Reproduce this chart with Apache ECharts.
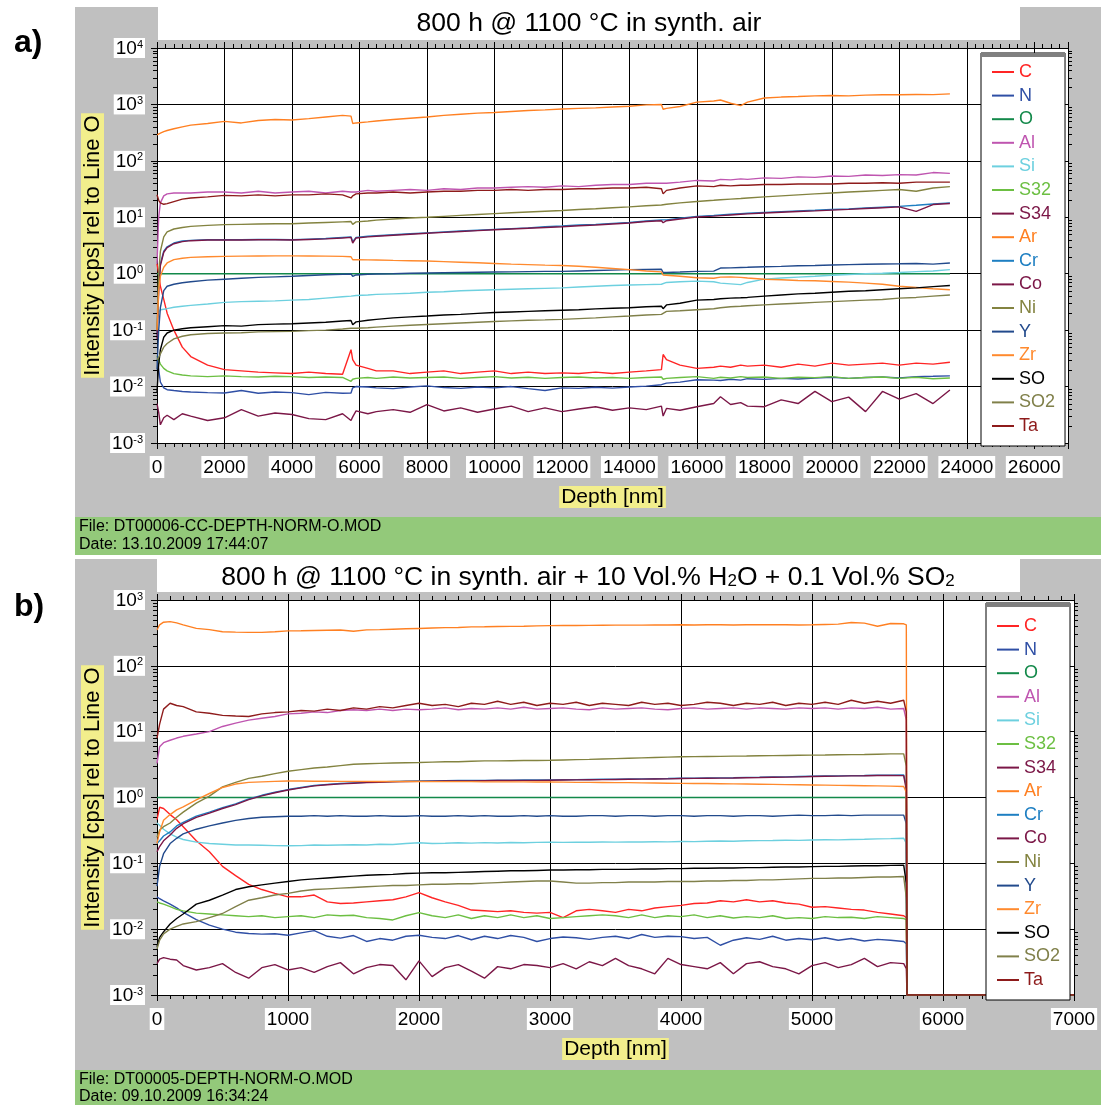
<!DOCTYPE html>
<html><head><meta charset="utf-8">
<script src="https://cdn.jsdelivr.net/npm/echarts@6/dist/echarts.min.js"></script>
<style>html,body{margin:0;padding:0;background:#fff}#c{width:1101px;height:1105px}</style>
</head><body><div id="c"></div><script>
// ---------- Panel a: depth [nm] and intensities ----------
const depthA = [0,50,100,200,300,500,750,1000,1500,2000,
 2500,3000,3500,4000,4500,5000,5500,5750,5800,5900,
 6250,6500,7000,7500,8000,8500,9000,9500,10000,10500,
 11000,11500,12000,12500,13000,13500,14000,14500,14950,15000,
 15100,15500,16000,16500,16700,17000,17300,17500,18000,18500,
 19000,19500,20000,20500,21000,21500,22000,22500,23000,23500];
const depthA_O = [0, 23500];
const O_a = [1, 1];
const Ar_a = [290,300,310,330,345,370,400,430,460,500,
 470,520,540,530,560,600,640,620,460,470,
 490,510,540,570,600,640,670,700,720,750,
 780,800,830,850,870,900,930,980,1000,820,
 850,920,1100,1150,1200,1050,950,1100,1300,1350,
 1380,1420,1440,1420,1460,1480,1480,1500,1490,1540];
const Al_a = [1.5,10,18,24,26,27,27,27,28,28,
 27,29,27,28,29,27,29,28,27,28,
 30,29,30,31,30,32,31,33,33,34,
 35,34,36,35,37,38,38,40,40,42,
 40,42,45,44,47,46,48,47,50,49,
 52,51,54,53,56,55,57,56,62,60];
const Ta_a = [25,20,18,17,17.5,19,21,22,23,24.5,
 24,25,24,25,25,26,25,22,24,26,
 27,27,28,27,28,29,29,30,30,31,
 30,31,31,32,32,33,33,34,32,26,
 30,33,36,35,37,36,37,37,38,38,
 39,39,39,40,40,41,40,42,42,42];
const Ni_a = [0.1,1,2.5,4.5,5.5,6.2,6.6,6.9,7.2,7.4,
 7.5,7.6,7.7,7.7,7.9,8.1,8.3,8.4,7.5,8.3,
 8.6,8.9,9.3,9.7,10,10.4,10.8,11.2,11.6,12,
 12.4,12.8,13.2,13.7,14.2,14.8,15.3,16,16.5,15.5,
 17,18,19,20,20.5,21,21.5,22,23,24,
 25,26,27,28,29,30,31,29,33,35];
const Cr_a = [0.08,0.6,1.5,2.5,3.0,3.5,3.8,3.9,4.0,4.0,
 4.0,4.05,4.05,4.0,4.1,4.2,4.4,4.5,3.7,4.4,
 4.6,4.7,4.9,5.1,5.3,5.5,5.7,5.9,6.1,6.3,
 6.5,6.8,7.0,7.3,7.5,7.8,8.1,8.6,9.0,8.4,
 9.0,9.6,10.4,10.8,11,11.3,11.6,11.8,12.2,12.6,
 13,13.3,13.7,14.1,14.6,15.1,15.6,16.3,17.2,18];
const Co_a = [0.07,0.5,1.4,2.4,2.9,3.4,3.7,3.85,3.95,3.95,
 3.95,4.0,4.0,3.95,4.05,4.15,4.3,4.4,3.5,4.3,
 4.5,4.6,4.8,5.0,5.2,5.4,5.6,5.8,6.0,6.2,
 6.4,6.6,6.8,7.1,7.3,7.6,7.9,8.4,8.7,8.0,
 8.7,9.3,10.1,10.5,10.7,11,11.3,11.5,11.9,12.3,
 12.7,13,13.4,13.8,14.3,14.8,15.3,12.7,16.8,17.6];
const Zr_a = [0.1,0.5,0.9,1.3,1.55,1.78,1.88,1.95,2.0,2.03,
 2.05,2.06,2.07,2.07,2.06,2.05,2.03,2.0,1.77,1.78,
 1.76,1.75,1.72,1.7,1.68,1.64,1.6,1.56,1.52,1.48,
 1.45,1.42,1.4,1.36,1.3,1.24,1.18,1.12,1.08,0.95,
 0.94,0.9,0.85,0.83,0.87,0.88,0.86,0.84,0.8,0.78,
 0.76,0.75,0.73,0.71,0.68,0.65,0.6,0.57,0.54,0.52];
const Y_a = [0.02,0.1,0.25,0.5,0.6,0.65,0.69,0.72,0.77,0.8,
 0.83,0.86,0.88,0.9,0.93,0.96,0.98,0.99,0.9,0.95,
 0.98,0.99,1.0,1.02,1.03,1.04,1.05,1.06,1.07,1.08,
 1.09,1.1,1.1,1.12,1.14,1.16,1.18,1.19,1.2,1.05,
 1.05,1.07,1.1,1.11,1.26,1.27,1.29,1.3,1.33,1.35,
 1.38,1.4,1.43,1.45,1.47,1.49,1.5,1.52,1.48,1.55];
const Si_a = [0.15,0.21,0.23,0.235,0.24,0.255,0.265,0.275,0.29,0.31,
 0.32,0.325,0.33,0.34,0.35,0.37,0.39,0.4,0.4,0.41,
 0.42,0.43,0.44,0.45,0.47,0.48,0.5,0.51,0.52,0.53,
 0.54,0.55,0.56,0.58,0.6,0.62,0.63,0.64,0.65,0.68,
 0.7,0.72,0.74,0.72,0.68,0.66,0.64,0.7,0.8,0.84,
 0.87,0.9,0.94,0.97,1.0,1.02,1.05,1.09,1.12,1.18];
const SO_a = [0.008,0.025,0.045,0.075,0.089,0.1,0.106,0.11,0.115,0.12,
 0.118,0.125,0.128,0.13,0.134,0.138,0.145,0.148,0.125,0.14,
 0.15,0.155,0.165,0.172,0.178,0.185,0.19,0.198,0.205,0.21,
 0.215,0.22,0.225,0.23,0.238,0.245,0.25,0.26,0.265,0.24,
 0.28,0.3,0.34,0.35,0.36,0.37,0.375,0.38,0.4,0.42,
 0.44,0.45,0.47,0.49,0.5,0.52,0.54,0.56,0.59,0.62];
const SO2_a = [0.03,0.033,0.038,0.05,0.058,0.07,0.078,0.083,0.087,0.089,
 0.09,0.093,0.094,0.095,0.098,0.1,0.105,0.108,0.1,0.108,
 0.11,0.113,0.118,0.122,0.126,0.13,0.134,0.138,0.142,0.146,
 0.15,0.152,0.155,0.16,0.165,0.172,0.178,0.185,0.19,0.18,
 0.215,0.22,0.23,0.24,0.25,0.26,0.265,0.27,0.28,0.29,
 0.3,0.31,0.32,0.33,0.34,0.35,0.37,0.38,0.4,0.42];
const C_a = [1.5,1.0,0.6,0.35,0.2,0.1,0.05,0.034,0.024,0.02,
 0.019,0.018,0.0175,0.017,0.018,0.017,0.0165,0.045,0.03,0.024,
 0.021,0.019,0.019,0.017,0.018,0.019,0.017,0.018,0.019,0.017,
 0.018,0.017,0.0175,0.017,0.018,0.017,0.018,0.019,0.02,0.037,
 0.03,0.024,0.021,0.022,0.023,0.022,0.024,0.023,0.024,0.022,
 0.025,0.023,0.026,0.024,0.025,0.026,0.024,0.026,0.025,0.027];
const S32_a = [0.035,0.03,0.025,0.021,0.019,0.017,0.016,0.0155,0.015,0.0155,
 0.015,0.0148,0.0152,0.015,0.0145,0.0148,0.0145,0.0124,0.0135,0.014,
 0.0145,0.014,0.0148,0.0142,0.0145,0.0148,0.014,0.0145,0.015,0.0142,
 0.0146,0.014,0.0145,0.0148,0.0142,0.0145,0.014,0.0145,0.0148,0.0135,
 0.014,0.0145,0.015,0.014,0.0146,0.0142,0.015,0.0145,0.0148,0.014,
 0.0146,0.0144,0.015,0.014,0.0145,0.0148,0.014,0.0146,0.0138,0.0142];
const N_a = [0.03,0.02,0.012,0.0095,0.0088,0.0085,0.0082,0.008,0.0078,0.0077,
 0.0085,0.0076,0.008,0.0078,0.0072,0.0079,0.0076,0.0077,0.0095,0.01,
 0.0098,0.0095,0.0092,0.0098,0.0103,0.0096,0.0093,0.0098,0.0095,0.01,
 0.0092,0.0085,0.0095,0.0093,0.0097,0.0094,0.0098,0.0102,0.0108,0.0112,
 0.0115,0.012,0.0132,0.013,0.0128,0.0135,0.013,0.0138,0.0134,0.014,
 0.0136,0.0142,0.0146,0.014,0.0145,0.0148,0.0142,0.015,0.0152,0.0155];
const S34_a = [0.005,0.0035,0.0021,0.0028,0.0031,0.0026,0.0033,0.003,0.0025,0.0028,
 0.0039,0.003,0.0034,0.0032,0.0027,0.0026,0.0033,0.0025,0.0029,0.0037,
 0.0033,0.0036,0.0039,0.0035,0.0048,0.0037,0.0042,0.0035,0.004,0.0045,
 0.0036,0.0042,0.0036,0.004,0.0044,0.0038,0.0042,0.0039,0.0045,0.003,
 0.0041,0.0038,0.0044,0.005,0.0066,0.0048,0.0052,0.0045,0.0044,0.0058,
 0.005,0.0082,0.0054,0.0065,0.0036,0.0082,0.006,0.0075,0.005,0.0087];

// ---------- Panel b ----------
const depthB = [0,20,50,100,150,200,300,400,500,600,
 700,800,900,1000,1100,1200,1300,1400,1500,1600,
 1700,1800,1900,2000,2100,2200,2300,2400,2500,2600,
 2700,2800,2900,3000,3100,3200,3300,3400,3500,3600,
 3700,3800,3900,4000,4100,4200,4300,4400,4500,4600,
 4700,4800,4900,5000,5100,5200,5300,5400,5500,5600,
 5700,5720,5725,7000];
const depthB_O = [0, 5720, 5725, 7000];
const O_b = [1, 1, 0.001, 0.001];
const Ar_b = [350,420,460,470,450,420,370,355,330,325,
 322,322,330,340,342,345,348,350,335,352,
 355,360,365,370,375,380,382,390,392,395,
 398,400,405,408,410,410,412,414,415,415,
 416,418,418,420,418,420,420,418,420,420,
 422,420,418,420,425,430,455,445,400,440,
 435,420,0.001,0.001];
const Ta_b = [8,13,22,27,25,24,20,19,17.7,17.3,
 17,18.6,19.5,20,21,20.5,22,21,23,22,
 24,23,25,27,25,26,24,27,26,29,
 26,28,25,27,26,28,25,27,26,25,
 28,26,27,25,26,28,27,25,27,26,
 28,25,27,26,28,26,30,27,29,27,
 30,20,0.001,0.001];
const Al_b = [3.3,5.9,6.8,7.4,8.0,8.5,9.2,10,12,13.5,
 15,16,17,18.6,19,20,19.5,21,21.5,21,
 22,21,22,21.5,22,23,21.5,22.5,22,23,
 22,23.5,22,22.5,23,22,21.5,23,22,22.5,
 23,22,21.5,22.5,23,22,22.5,23,22,23,
 22.5,22,23,22.5,23,22,23,22.5,23.5,22,
 22.5,15,0.001,0.001];
const Ni_b = [0.25,0.32,0.36,0.41,0.5,0.6,0.82,1.05,1.45,1.7,
 1.95,2.1,2.3,2.5,2.65,2.8,2.9,3.05,3.2,3.25,
 3.3,3.35,3.38,3.4,3.45,3.5,3.5,3.55,3.6,3.6,
 3.62,3.64,3.65,3.68,3.72,3.76,3.8,3.85,3.9,3.95,
 4.0,4.05,4.1,4.15,4.18,4.2,4.22,4.25,4.27,4.3,
 4.32,4.35,4.38,4.4,4.42,4.45,4.48,4.5,4.55,4.6,
 4.6,3.0,0.001,0.001];
const Zr_b = [0.2,0.3,0.45,0.55,0.65,0.72,0.92,1.15,1.42,1.6,
 1.7,1.73,1.76,1.78,1.78,1.77,1.77,1.76,1.76,1.76,
 1.75,1.75,1.75,1.75,1.74,1.74,1.74,1.74,1.73,1.73,
 1.73,1.73,1.72,1.72,1.71,1.7,1.7,1.69,1.68,1.68,
 1.67,1.66,1.65,1.64,1.63,1.63,1.62,1.61,1.6,1.59,
 1.58,1.57,1.56,1.55,1.54,1.53,1.52,1.51,1.5,1.49,
 1.47,1.2,0.001,0.001];
const Cr_b = [0.2,0.22,0.26,0.3,0.37,0.42,0.52,0.6,0.7,0.8,
 0.95,1.08,1.2,1.32,1.42,1.52,1.58,1.63,1.67,1.7,
 1.72,1.75,1.77,1.78,1.79,1.8,1.81,1.81,1.82,1.83,
 1.83,1.84,1.84,1.85,1.86,1.87,1.88,1.89,1.9,1.91,
 1.92,1.93,1.94,1.96,1.97,1.98,1.99,2.0,2.02,2.03,
 2.05,2.06,2.08,2.1,2.12,2.13,2.15,2.16,2.18,2.19,
 2.2,1.5,0.001,0.001];
const Co_b = [0.15,0.18,0.22,0.27,0.34,0.4,0.5,0.58,0.68,0.78,
 0.93,1.06,1.18,1.3,1.4,1.5,1.56,1.61,1.65,1.68,
 1.7,1.73,1.75,1.76,1.77,1.78,1.79,1.79,1.8,1.81,
 1.81,1.82,1.82,1.83,1.84,1.85,1.86,1.87,1.88,1.89,
 1.9,1.91,1.92,1.94,1.95,1.96,1.97,1.98,2.0,2.01,
 2.03,2.04,2.06,2.08,2.1,2.11,2.13,2.14,2.16,2.17,
 2.15,1.3,0.001,0.001];
const Y_b = [0.045,0.09,0.14,0.2,0.24,0.28,0.33,0.37,0.41,0.45,
 0.48,0.5,0.51,0.52,0.52,0.53,0.52,0.53,0.52,0.52,
 0.53,0.52,0.52,0.53,0.52,0.52,0.53,0.52,0.53,0.52,
 0.52,0.53,0.52,0.53,0.52,0.52,0.53,0.53,0.52,0.53,
 0.53,0.52,0.53,0.53,0.52,0.53,0.53,0.52,0.53,0.53,
 0.52,0.53,0.54,0.53,0.53,0.54,0.53,0.54,0.54,0.54,
 0.54,0.4,0.001,0.001];
const Si_b = [0.41,0.38,0.33,0.28,0.25,0.23,0.21,0.2,0.195,0.19,
 0.19,0.188,0.186,0.185,0.186,0.19,0.188,0.19,0.192,0.19,
 0.195,0.193,0.2,0.205,0.2,0.202,0.205,0.203,0.206,0.204,
 0.207,0.205,0.208,0.21,0.208,0.21,0.209,0.211,0.21,0.212,
 0.211,0.213,0.212,0.215,0.214,0.216,0.218,0.217,0.22,0.221,
 0.222,0.224,0.223,0.226,0.228,0.227,0.23,0.232,0.235,0.237,
 0.24,0.2,0.001,0.001];
const C_b = [0.46,0.71,0.68,0.55,0.46,0.36,0.22,0.15,0.09,0.065,
 0.048,0.04,0.035,0.031,0.031,0.033,0.026,0.0245,0.025,0.026,
 0.027,0.028,0.031,0.036,0.03,0.026,0.023,0.0195,0.019,0.0185,
 0.019,0.018,0.0175,0.018,0.015,0.019,0.02,0.019,0.018,0.02,
 0.019,0.021,0.022,0.023,0.0245,0.025,0.027,0.026,0.028,0.026,
 0.027,0.025,0.024,0.0215,0.022,0.021,0.02,0.0195,0.018,0.017,
 0.016,0.015,0.001,0.001];
const SO_b = [0.0054,0.0075,0.0091,0.012,0.0145,0.017,0.024,0.0275,0.033,0.04,
 0.044,0.047,0.05,0.053,0.056,0.058,0.06,0.062,0.064,0.066,
 0.067,0.068,0.07,0.071,0.072,0.072,0.073,0.074,0.075,0.076,
 0.077,0.077,0.078,0.079,0.079,0.08,0.08,0.081,0.081,0.081,
 0.082,0.082,0.083,0.083,0.084,0.084,0.085,0.085,0.086,0.086,
 0.087,0.088,0.088,0.089,0.09,0.09,0.091,0.092,0.092,0.093,
 0.094,0.05,0.001,0.001];
const SO2_b = [0.005,0.0068,0.0085,0.01,0.011,0.012,0.013,0.015,0.0173,0.022,
 0.0275,0.03,0.033,0.035,0.038,0.04,0.041,0.042,0.043,0.044,
 0.045,0.046,0.046,0.047,0.048,0.048,0.049,0.049,0.05,0.051,
 0.052,0.053,0.054,0.054,0.052,0.05,0.05,0.051,0.051,0.052,
 0.052,0.052,0.053,0.053,0.053,0.054,0.054,0.055,0.055,0.056,
 0.056,0.057,0.058,0.059,0.059,0.06,0.06,0.061,0.062,0.062,
 0.063,0.03,0.001,0.001];
const S32_b = [0.026,0.025,0.024,0.022,0.02,0.019,0.0175,0.017,0.0165,0.016,
 0.0155,0.016,0.015,0.0155,0.016,0.015,0.0165,0.016,0.0163,0.015,
 0.0145,0.0138,0.016,0.0178,0.016,0.015,0.0165,0.0145,0.016,0.015,
 0.0165,0.015,0.016,0.0145,0.015,0.0155,0.016,0.0165,0.016,0.015,
 0.0165,0.015,0.016,0.0155,0.0165,0.015,0.016,0.0148,0.0155,0.015,
 0.016,0.0145,0.015,0.0145,0.0155,0.015,0.0152,0.0145,0.0155,0.015,
 0.0145,0.014,0.001,0.001];
const N_b = [0.031,0.029,0.027,0.024,0.021,0.018,0.014,0.0115,0.01,0.009,
 0.0086,0.0084,0.0085,0.0081,0.0088,0.0095,0.0078,0.0073,0.008,0.0065,
 0.0072,0.0068,0.0078,0.0081,0.0075,0.0072,0.008,0.0069,0.0078,0.0072,
 0.008,0.0075,0.0065,0.0072,0.0076,0.0074,0.007,0.0075,0.0078,0.0072,
 0.0083,0.0075,0.0078,0.0077,0.0072,0.0075,0.0057,0.0068,0.0074,0.007,
 0.0078,0.0068,0.0072,0.0069,0.0074,0.0068,0.0072,0.0066,0.007,0.0068,
 0.0065,0.006,0.001,0.001];
const S34_b = [0.003,0.0035,0.0037,0.0035,0.0034,0.0028,0.0024,0.0026,0.003,0.0022,
 0.0018,0.0026,0.0029,0.0024,0.0026,0.0022,0.0027,0.0031,0.0021,0.0026,
 0.0029,0.0028,0.0017,0.0033,0.0019,0.0026,0.0029,0.0023,0.0018,0.0027,
 0.0025,0.0029,0.0028,0.0026,0.003,0.0025,0.0032,0.0028,0.0036,0.0028,
 0.0025,0.0021,0.0036,0.0029,0.0027,0.0025,0.0031,0.0021,0.003,0.0032,
 0.0027,0.0025,0.0021,0.0028,0.0031,0.0026,0.0029,0.0036,0.0027,0.0031,
 0.003,0.0025,0.001,0.001];

// ---------- names, colours, labels ----------
const seriesNames = ['C','N','O','Al','Si','S32','S34','Ar','Cr','Co','Ni','Y','Zr','SO','SO2','Ta'];
const seriesColors = ['#ff2525','#2f4fa5','#13894a','#bf55b0','#6dd0df','#6cbf42','#7b1747','#ff8022',
                      '#1e7fc2','#7b1747','#838340','#224a8c','#ff8a2e','#000000','#80804a','#8e1b1b'];
const titleA = '800 h @ 1100 °C in synth. air';
const titleB = '{n|800 h @ 1100 °C in synth. air + 10 Vol.% H}{s|2}{n|O + 0.1 Vol.% SO}{s|2}';
const footerA = ['File: DT00006-CC-DEPTH-NORM-O.MOD', 'Date: 13.10.2009 17:44:07'];
const footerB = ['File: DT00005-DEPTH-NORM-O.MOD', 'Date: 09.10.2009 16:34:24'];
const xNameText = 'Depth [nm]';
const yNameText = 'Intensity [cps] rel to Line O';
const minorMultipliers = [2,3,4,5,6,7,8,9];

const panelValues = [
  {C:C_a,N:N_a,O:O_a,Al:Al_a,Si:Si_a,S32:S32_a,S34:S34_a,Ar:Ar_a,Cr:Cr_a,Co:Co_a,Ni:Ni_a,Y:Y_a,Zr:Zr_a,SO:SO_a,SO2:SO2_a,Ta:Ta_a},
  {C:C_b,N:N_b,O:O_b,Al:Al_b,Si:Si_b,S32:S32_b,S34:S34_b,Ar:Ar_b,Cr:Cr_b,Co:Co_b,Ni:Ni_b,Y:Y_b,Zr:Zr_b,SO:SO_b,SO2:SO2_b,Ta:Ta_b}
];
const panelDepth = [depthA, depthB];
const panelDepthO = [depthA_O, depthB_O];

// ---------- layout ----------
const FONT = 'Liberation Sans';
const GRAY = '#c0c0c0', GREEN = '#93c97a', YELLOW = '#f2ee8c';
const P = [
  {grid:{left:157, top:48, width:911, height:395}, xmax:27000, xint:2000, xminor:8, ymin:0.001, ymax:10000, emin:-3, emax:4, showMax:false,
   legend:{left:981, top:53, pad:[10,10,11,11]}},
  {grid:{left:157, top:600, width:917, height:395}, xmax:7000, xint:1000, xminor:10, ymin:0.001, ymax:1000, emin:-3, emax:3, showMax:true,
   legend:{left:986, top:603, pad:[14,10,11,11]}}
];

const chart = echarts.init(document.getElementById('c'), null, {renderer:'canvas'});

const grids = [], xAxes = [], yAxes = [], series = [], legends = [];
P.forEach((p, i) => {
  grids.push(Object.assign({show:true, backgroundColor:'#fff', borderWidth:0, containLabel:false, outerBoundsMode:'none'}, p.grid));
  const axLine = {show:true, lineStyle:{color:'#000', width:1}};
  xAxes.push({
    type:'value', gridIndex:i, position:'bottom', min:0, max:p.xmax, interval:p.xint,
    axisLine:axLine, axisTick:{show:true, inside:false, length:6, lineStyle:{color:'#000'}},
    minorTick:{show:true, splitNumber:p.xminor, length:4, lineStyle:{color:'#000'}},
    splitLine:{show:true, lineStyle:{color:'#000', width:1}},
    axisLabel:{show:true, margin:13, fontSize:19, fontFamily:FONT, color:'#000', backgroundColor:'#fff', padding:[2,2,1,2],
      hideOverlap:false, showMaxLabel:p.showMax, formatter: v => String(v)},
    name:xNameText, nameLocation:'middle', nameGap:43, nameMoveOverlap:false,
    nameTextStyle:{fontSize:21, fontFamily:FONT, color:'#000', backgroundColor:YELLOW, padding:[1,2,0,2]}
  });
  xAxes.push({
    type:'value', gridIndex:i, position:'top', min:0, max:p.xmax, interval:p.xint,
    axisLine:axLine, axisTick:{show:true, inside:false, length:6, lineStyle:{color:'#000'}},
    minorTick:{show:true, splitNumber:p.xminor, length:4, lineStyle:{color:'#000'}},
    splitLine:{show:false}, axisLabel:{show:false}
  });
  yAxes.push({
    type:'log', logBase:10, gridIndex:i, position:'left', min:p.ymin, max:p.ymax,
    axisLine:axLine, axisTick:{show:true, inside:false, length:6, lineStyle:{color:'#000'}},
    splitLine:{show:true, lineStyle:{color:'#000', width:1}},
    axisLabel:{show:true, margin:12, color:'#000', backgroundColor:'#fff', padding:[1,2,0,2],
      formatter: v => '{b|10}{s|' + Math.round(Math.log10(v)) + '}',
      rich:{b:{fontSize:19, fontFamily:FONT, color:'#000'}, s:{fontSize:11, fontFamily:FONT, color:'#000', verticalAlign:'top'}}},
    name:yNameText, nameLocation:'middle', nameGap:53, nameMoveOverlap:false,
    nameTextStyle:{fontSize:22, fontFamily:FONT, color:'#000', backgroundColor:YELLOW, padding:[1,2,0,2]}
  });
  yAxes.push({
    type:'log', logBase:10, gridIndex:i, position:'right', min:p.ymin, max:p.ymax,
    axisLine:axLine, axisTick:{show:true, inside:false, length:6, lineStyle:{color:'#000'}},
    splitLine:{show:false}, axisLabel:{show:false}
  });
  const vals = panelValues[i];
  seriesNames.forEach((n, k) => {
    const depth = n === 'O' ? panelDepthO[i] : panelDepth[i];
    const v = vals[n];
    series.push({
      type:'line', name:n, xAxisIndex:i*2, yAxisIndex:i*2,
      data: depth.map((d, j) => [d, v[j]]),
      symbol:'none', showSymbol:false, silent:true, animation:false,
      lineStyle:{width:1.4, color:seriesColors[k]}, itemStyle:{color:seriesColors[k]},
      emphasis:{disabled:true}, z:2 + k*0.01
    });
  });
  // log minor ticks on left and right axes (positions from the log scale)
  [[0, -1], [p.xmax, 1]].forEach(([xe, dir]) => {
    const tickVals = [];
    for (let e = p.emin; e < p.emax; e++) minorMultipliers.forEach(m => tickVals.push([xe, m * Math.pow(10, e)]));
    series.push({
      type:'custom', name:'_ticks', xAxisIndex:i*2, yAxisIndex:i*2, clip:false, silent:true, animation:false, z:5,
      data: tickVals,
      renderItem: (params, api) => {
        const pt = api.coord([api.value(0), api.value(1)]);
        const y = Math.round(pt[1]) + 0.5;
        return {type:'line', shape:{x1:pt[0], y1:y, x2:pt[0] + dir*4, y2:y}, style:{stroke:'#000', lineWidth:1}};
      }
    });
  });
  legends.push({
    orient:'vertical', left:p.legend.left, top:p.legend.top, padding:p.legend.pad,
    itemWidth:22, itemHeight:2, itemGap:5.6, icon:'rect', selectedMode:false,
    backgroundColor:'#fff', borderColor:'#000', borderWidth:1,
    textStyle:{fontSize:18, fontFamily:FONT, lineHeight:18},
    data: seriesNames.map((n, k) => ({name:n, icon:'rect', itemStyle:{color:seriesColors[k]}, textStyle:{color:seriesColors[k], fontSize:18, fontFamily:FONT}}))
  });
});

function rect(x, y, w, h, fill, z) { return {type:'rect', shape:{x, y, width:w, height:h}, style:{fill}, z, silent:true}; }
function txt(x, y, text, font, align, extra) {
  return Object.assign({type:'text', x, y, z:50, silent:true, style:{text, font, fill:'#000', align:align || 'left', verticalAlign:'middle'}}, extra || {});
}

const graphic = [
  rect(75, 7, 1026, 510, GRAY, -5),
  rect(158, 7, 862, 33, '#fff', -4),
  rect(75, 517, 1026, 38, GREEN, -4),
  rect(75, 559, 1026, 511, GRAY, -5),
  rect(157, 559, 863, 33, '#fff', -4),
  rect(75, 1070, 1026, 35, GREEN, -4),
  rect(981, 53, 84, 4, '#808080', 60),
  rect(986, 603, 85, 4, '#808080', 60),
  txt(14, 43, 'a)', 'bold 32px ' + FONT),
  txt(14, 607, 'b)', 'bold 32px ' + FONT),
  txt(589, 24, titleA, '26.5px ' + FONT, 'center'),
  {type:'text', x:588, y:577, z:50, silent:true, style:{text:titleB, align:'center', verticalAlign:'middle', fill:'#000',
     rich:{n:{fontSize:26.5, fontFamily:FONT, verticalAlign:'top', lineHeight:26},
           s:{fontSize:17, fontFamily:FONT, verticalAlign:'bottom', padding:[12,0,0,0], lineHeight:17}}}},
  txt(79, 527, footerA[0], '16px ' + FONT),
  txt(79, 545, footerA[1], '16px ' + FONT),
  txt(79, 1080, footerB[0], '16px ' + FONT),
  txt(79, 1097, footerB[1], '16px ' + FONT)
];

chart.setOption({
  animation:false,
  backgroundColor:'#fff',
  grid:grids, xAxis:xAxes, yAxis:yAxes, series, legend:legends,
  graphic:{elements:graphic}
});
</script></body></html>
